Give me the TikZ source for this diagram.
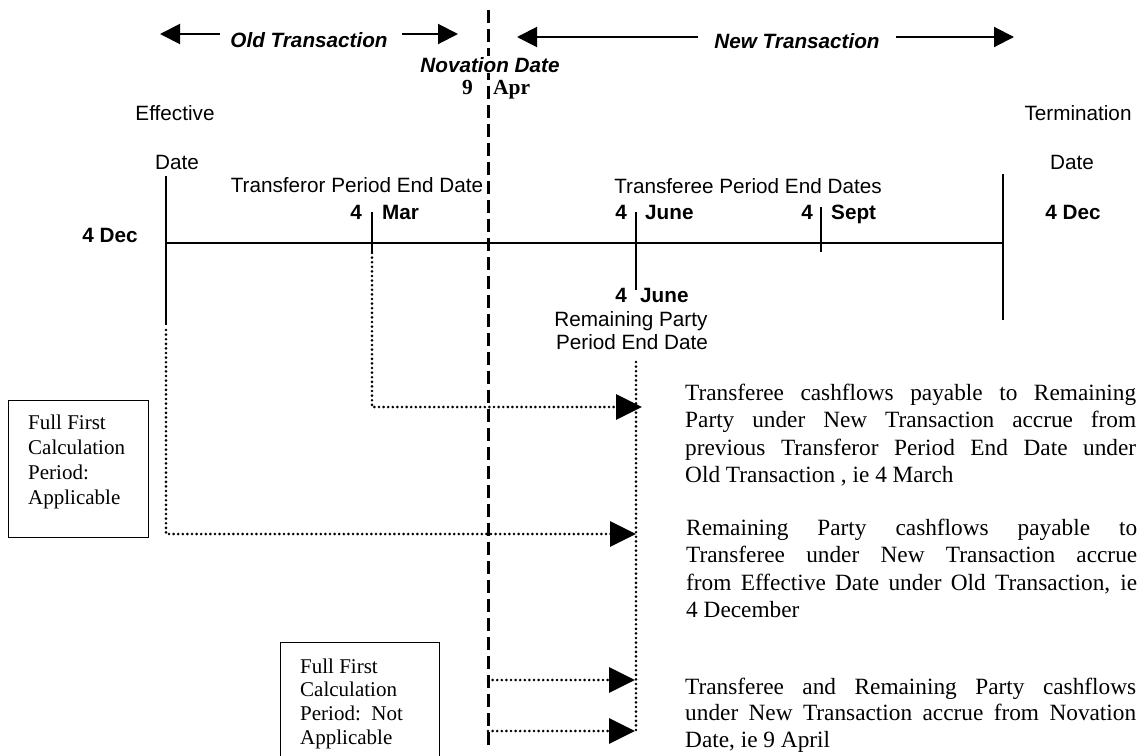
\documentclass[tikz,border=0pt]{standalone}
\usepackage{fontspec}
\setmainfont{Liberation Serif}
\newfontfamily\arialf{Liberation Sans}
\usetikzlibrary{arrows.meta}
\newcommand{\jline}[1]{\hbox to 451pt{#1}}
\begin{document}
\begin{tikzpicture}[x=1pt,y=-1pt,
  sans/.style={font={\arialf\fontsize{20.7}{24}\selectfont}, inner sep=0pt},
  sansb/.style={font={\arialf\bfseries\fontsize{20.7}{24}\selectfont}, inner sep=0pt},
  sansbi/.style={font={\arialf\bfseries\itshape\fontsize{20.7}{24}\selectfont}, inner sep=0pt},
  serifb/.style={font={\bfseries\fontsize{21.5}{24}\selectfont}, inner sep=0pt},
  para/.style={font={\fontsize{23.3}{27.5}\selectfont}, inner sep=0pt, anchor=base west},
  boxtxt/.style={font={\fontsize{21}{25.3}\selectfont}, inner sep=0pt, anchor=base west},
  boxtxtb/.style={font={\fontsize{21}{23.8}\selectfont}, inner sep=0pt, anchor=base west},
  framebox/.style={draw, line width=1.3pt, inner sep=0pt, anchor=north west},
  toparrow/.style={line width=2pt, -{Triangle[length=20pt,width=20pt]}},
  thickl/.style={line width=2.8pt},
  thinl/.style={line width=1.3pt},
  novl/.style={line width=3pt, dash pattern=on 13pt off 6pt},
  dotl/.style={line width=2.9pt, dash pattern=on 0pt off 4.6pt, line cap=round},
  bigtip/.style={-{Triangle[length=26pt,width=25pt]}}
]
\useasboundingbox (0,0) rectangle (1145,755);

% ---------- coordinates ----------
\coordinate (oldL0) at (220,34); \coordinate (oldL1) at (160,34);
\coordinate (oldR0) at (402,34); \coordinate (oldR1) at (458,34);
\coordinate (newL0) at (698,37); \coordinate (newL1) at (517,37);
\coordinate (newR0) at (896,37); \coordinate (newR1) at (1014,37);
\coordinate (novTop) at (488,10); \coordinate (novBot) at (488,748);
\coordinate (effTop) at (166,176); \coordinate (effBot) at (166,325);
\coordinate (effDot) at (166,330);
\coordinate (tlL) at (166,243); \coordinate (tlR) at (1003,243);
\coordinate (marTop) at (372,212); \coordinate (marBot) at (372,253);
\coordinate (junTop) at (636,212); \coordinate (junBot) at (636,290);
\coordinate (sepTop) at (821,207); \coordinate (sepBot) at (821,252);
\coordinate (terTop) at (1003,174); \coordinate (terBot) at (1003,320);
\coordinate (junDot0) at (636,362); \coordinate (junDot1) at (636,731);
\coordinate (a1tip) at (642,407);
\coordinate (a2tip) at (636,534);
\coordinate (n3) at (488,680); \coordinate (a3tip) at (635,680);
\coordinate (n4) at (488,731); \coordinate (a4tip) at (635,731);

% ---------- top arrows ----------
\node[sansbi, anchor=base] (oldT) at (309,47) {Old Transaction};
\draw[toparrow] (oldL0) -- (oldL1);
\draw[toparrow] (oldR0) -- (oldR1);
\node[sansbi, anchor=base] (newT) at (797,48) {New Transaction};
\draw[toparrow] (newL0) -- (newL1);
\draw[toparrow] (newR0) -- (newR1);

% ---------- boxes ----------
\node[framebox, minimum width=140pt, minimum height=137pt] (box1) at (8,400) {};
\node[boxtxt] (box1t) at (28,429) {\vtop{\hbox{Full First}\hbox{Calculation}\hbox{Period:}\hbox{Applicable}}};
\node[framebox, minimum width=159pt, minimum height=130pt] (box2) at (280,642) {};
\node[boxtxtb] (box2t) at (300,673) {\vtop{\hbox{Full First}\hbox{Calculation}\hbox{Period:\ \ Not}\hbox{Applicable}}};

% ---------- dotted connectors ----------
\draw[dotl, bigtip] (marBot) |- (a1tip);
\draw[dotl, bigtip] (effDot) |- (a2tip);
\draw[dotl] (junDot0) -- (junDot1);
\draw[dotl, bigtip] (n3) -- (a3tip);
\draw[dotl, bigtip] (n4) -- (a4tip);

% ---------- timeline ----------
\draw[thinl] (tlL) -- (tlR);
\draw[thickl] (effTop) -- (effBot);
\draw[thickl] (marTop) -- (marBot);
\draw[thickl] (junTop) -- (junBot);
\draw[thickl] (sepTop) -- (sepBot);
\draw[thickl] (terTop) -- (terBot);

% ---------- novation line ----------
\draw[novl] (novTop) -- (novBot);
\node[sansbi, anchor=base, fill=white, inner sep=1pt] (novD) at (490,72) {Novation Date};
\node[serifb, anchor=base east] (nine) at (473,94) {9};
\node[serifb, anchor=base west] (apr) at (493,94) {Apr};

% ---------- labels ----------
\node[sans, anchor=base] (effA) at (175,120) {Effective};
\node[sans, anchor=base] (effB) at (177,169) {Date};
\node[sansb, anchor=base] (decL) at (110,242) {4 Dec};
\node[sans, anchor=base] (torL) at (357,192) {Transferor Period End Date};
\node[sansb, anchor=base east] (marA) at (362,219) {4};
\node[sansb, anchor=base west] (marB) at (382,219) {Mar};
\node[sans, anchor=base] (teeL) at (748,193) {Transferee Period End Dates};
\node[sansb, anchor=base east] (junA) at (627,219) {4};
\node[sansb, anchor=base west] (junB) at (645,219) {June};
\node[sansb, anchor=base east] (sepA) at (813,219) {4};
\node[sansb, anchor=base west] (sepB) at (831,219) {Sept};
\node[sansb, anchor=base east] (rjA) at (627,302) {4};
\node[sansb, anchor=base west] (rjB) at (640,302) {June};
\node[sans, anchor=base] (remA) at (631,326) {Remaining Party};
\node[sans, anchor=base] (remB) at (632,349) {Period End Date};
\node[sans, anchor=base] (terA) at (1078,120) {Termination};
\node[sans, anchor=base] (terB) at (1072,169) {Date};
\node[sansb, anchor=base] (decR) at (1073,219) {4 Dec};

% ---------- paragraphs ----------
\node[para] (p1) at (685,400) {\vtop{%
  \jline{Transferee cashflows payable to Remaining}%
  \jline{Party under New Transaction accrue from}%
  \jline{previous Transferor Period End Date under}%
  \hbox{Old Transaction , ie 4 March}}};
\node[para] (p2) at (686,535) {\vtop{%
  \jline{Remaining Party cashflows payable to}%
  \jline{Transferee under New Transaction accrue}%
  \jline{from Effective Date under Old Transaction, ie}%
  \hbox{4 December}}};
\node[para, font={\fontsize{23.3}{26.7}\selectfont}] (p3) at (685,694) {\vtop{%
  \jline{Transferee and Remaining Party cashflows}%
  \jline{under New Transaction accrue from Novation}%
  \hbox{Date, ie 9 April}}};
\end{tikzpicture}
\end{document}
